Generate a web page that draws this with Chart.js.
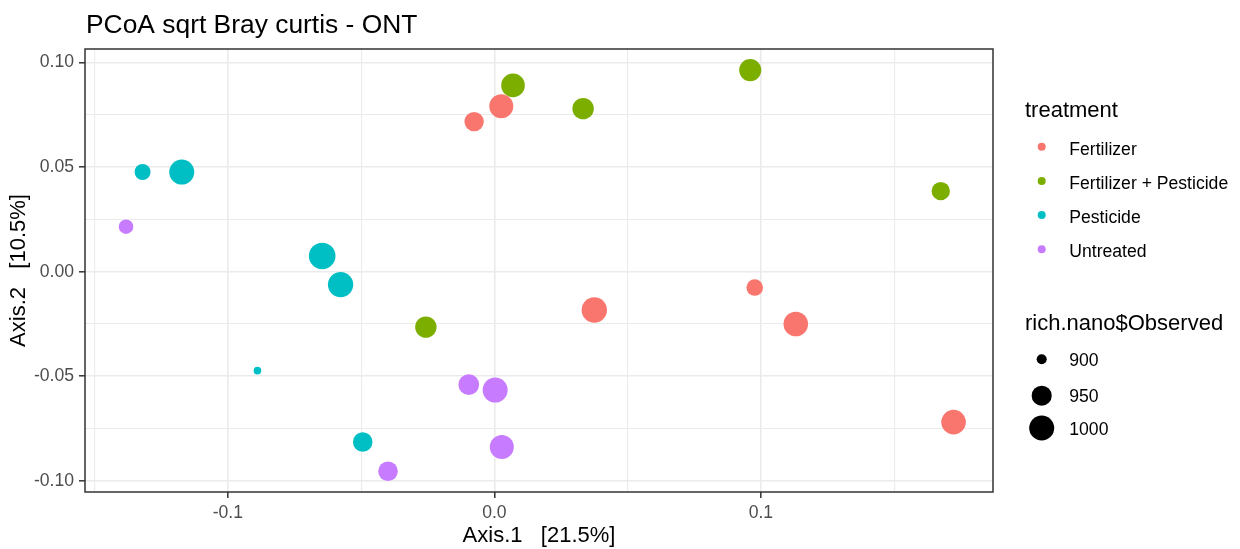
<!DOCTYPE html>
<html><head><meta charset="utf-8">
<script src="https://cdn.jsdelivr.net/npm/chart.js@4/dist/chart.umd.min.js"></script>
<style>html,body{margin:0;padding:0;background:#fff}canvas{display:block}</style>
</head><body>
<canvas id="c" width="1240" height="549"></canvas>
<script>
// ---- data ----
const treatments = ['Fertilizer', 'Fertilizer + Pesticide', 'Pesticide', 'Untreated'];
const colors = ['#F8766D', '#7CAE00', '#00BFC4', '#C77CFF'];

const fertX = [-0.0076, 0.0026, 0.0375, 0.0977, 0.1131, 0.1723];
const fertY = [0.0717, 0.0790, -0.0183, -0.0076, -0.0250, -0.0719];
const fertObs = [945, 988, 1004, 925, 995, 995];

const fpX = [0.0070, 0.0333, 0.0960, 0.1675, -0.0257];
const fpY = [0.0890, 0.0779, 0.0963, 0.0385, -0.0265];
const fpObs = [984, 962, 968, 937, 962];

const pestX = [-0.1320, -0.1173, -0.0646, -0.0577, -0.0889, -0.0494];
const pestY = [0.0476, 0.0476, 0.0075, -0.0062, -0.0473, -0.0814];
const pestObs = [922, 1000, 1019, 1004, 898, 946];

const untrX = [-0.1382, -0.0096, 0.0003, 0.0028, -0.0399];
const untrY = [0.0215, -0.0540, -0.0566, -0.0838, -0.0954];
const untrObs = [914, 955, 1000, 988, 946];

const sizeBreaks = [900, 950, 1000];
const sizeLabels = ['900', '950', '1000'];

const xMajor = [-0.1, 0, 0.1];
const xMajorLabels = ['-0.1', '0.0', '0.1'];
const xMinor = [-0.15, -0.05, 0.05, 0.15];
const yMajor = [-0.10, -0.05, 0, 0.05, 0.10];
const yMajorLabels = ['-0.10', '-0.05', '0.00', '0.05', '0.10'];
const yMinor = [-0.075, -0.025, 0.025, 0.075];

const titleText = 'PCoA sqrt Bray curtis - ONT';
const xTitle = 'Axis.1   [21.5%]';
const yTitle = 'Axis.2   [10.5%]';
const colorLegendTitle = 'treatment';
const sizeLegendTitle = 'rich.nano$Observed';

// ---- build ----
const FONT = '"Liberation Sans", Arial, sans-serif';
const groups = [[fertX, fertY, fertObs], [fpX, fpY, fpObs], [pestX, pestY, pestObs], [untrX, untrY, untrObs]];
const allObs = [].concat(fertObs, fpObs, pestObs, untrObs);
const obsMin = Math.min(...allObs), obsMax = Math.max(...allObs);
function radiusFor(v) {
  const f = Math.max(0, (v - obsMin) / (obsMax - obsMin));
  return 3.8 + 9.5 * Math.sqrt(f);
}

const datasets = groups.map((g, i) => ({
  label: treatments[i],
  data: g[0].map((x, j) => ({ x: x, y: g[1][j], obs: g[2][j] })),
  backgroundColor: colors[i],
  borderWidth: 0,
  pointRadius: (ctx) => ctx.raw ? radiusFor(ctx.raw.obs) : 3,
  pointHoverRadius: (ctx) => ctx.raw ? radiusFor(ctx.raw.obs) : 3
}));

const near = (a, b) => Math.abs(a - b) < 1e-9;
const isMajor = (arr, v) => arr.some(m => near(m, v));

const ggPlugin = {
  id: 'gg',
  afterDatasetsDraw(chart) {
    const { ctx, chartArea: a } = chart;
    ctx.save();
    ctx.strokeStyle = '#333333';
    ctx.lineWidth = 1.5;
    ctx.strokeRect(a.left, a.top, a.right - a.left, a.bottom - a.top);
    ctx.restore();
  },
  afterDraw(chart) {
    const ctx = chart.ctx;
    ctx.save();
    ctx.textAlign = 'left';
    ctx.textBaseline = 'alphabetic';
    ctx.fillStyle = '#000';
    ctx.font = '26.4px ' + FONT;
    ctx.fillText(titleText, 86, 33);

    ctx.font = '22px ' + FONT;
    ctx.fillText(colorLegendTitle, 1025, 117);
    ctx.font = '17.6px ' + FONT;
    treatments.forEach((t, i) => {
      const y = 146.7 + i * 34.2;
      ctx.fillStyle = colors[i];
      ctx.beginPath(); ctx.arc(1041.7, y, 4, 0, Math.PI * 2); ctx.fill();
      ctx.fillStyle = '#000';
      ctx.fillText(t, 1069.3, y + 8);
    });

    ctx.font = '22px ' + FONT;
    ctx.fillText(sizeLegendTitle, 1025, 330);
    ctx.font = '17.6px ' + FONT;
    const keyY = [359.3, 395.7, 428];
    sizeBreaks.forEach((v, i) => {
      ctx.fillStyle = '#000';
      ctx.beginPath(); ctx.arc(1041.7, keyY[i], radiusFor(v), 0, Math.PI * 2); ctx.fill();
      ctx.fillText(sizeLabels[i], 1069.3, keyY[i] + 6.5);
    });
    ctx.restore();
  }
};

new Chart(document.getElementById('c'), {
  type: 'scatter',
  data: { datasets },
  options: {
    responsive: false,
    animation: false,
    devicePixelRatio: 1,
    events: [],
    layout: { padding: { left: 0, top: 49, right: 247, bottom: 0 } },
    plugins: { legend: { display: false }, tooltip: { enabled: false }, title: { display: false } },
    scales: {
      x: {
        type: 'linear', min: -0.1536, max: 0.1871,
        afterBuildTicks: (s) => { s.ticks = [...xMinor, ...xMajor].sort((a, b) => a - b).map(v => ({ value: v })); },
        afterFit: (s) => { s.height = 57; },
        border: { display: false },
        grid: {
          color: '#EBEBEB',
          lineWidth: (c) => c.tick && isMajor(xMajor, c.tick.value) ? 1.6 : 1.1,
          tickColor: (c) => c.tick && isMajor(xMajor, c.tick.value) ? '#333333' : 'rgba(0,0,0,0)',
          tickWidth: 1.5,
          tickLength: 6
        },
        ticks: {
          autoSkip: false, maxRotation: 0, padding: 5, color: '#4D4D4D',
          font: { family: FONT, size: 17.6 },
          callback: (v) => { const i = xMajor.findIndex(m => near(m, v)); return i >= 0 ? xMajorLabels[i] : ''; }
        },
        title: { display: true, text: xTitle, color: '#000', font: { family: FONT, size: 22, lineHeight: 1.2 }, padding: { top: 0, bottom: 0 } }
      },
      y: {
        type: 'linear', min: -0.1053, max: 0.1064,
        afterBuildTicks: (s) => { s.ticks = [...yMinor, ...yMajor].sort((a, b) => a - b).map(v => ({ value: v })); },
        afterFit: (s) => { s.width = 85; },
        border: { display: false },
        grid: {
          color: '#EBEBEB',
          lineWidth: (c) => c.tick && isMajor(yMajor, c.tick.value) ? 1.6 : 1.1,
          tickColor: (c) => c.tick && isMajor(yMajor, c.tick.value) ? '#333333' : 'rgba(0,0,0,0)',
          tickWidth: 1.5,
          tickLength: 6
        },
        ticks: {
          autoSkip: false, padding: 5, color: '#4D4D4D',
          font: { family: FONT, size: 17.6 },
          callback: (v) => { const i = yMajor.findIndex(m => near(m, v)); return i >= 0 ? yMajorLabels[i] : ''; }
        },
        title: { display: true, text: yTitle, color: '#000', font: { family: FONT, size: 22, lineHeight: 1.2 }, padding: { top: 6, bottom: 0 } }
      }
    }
  },
  plugins: [ggPlugin]
});
</script>
</body></html>
